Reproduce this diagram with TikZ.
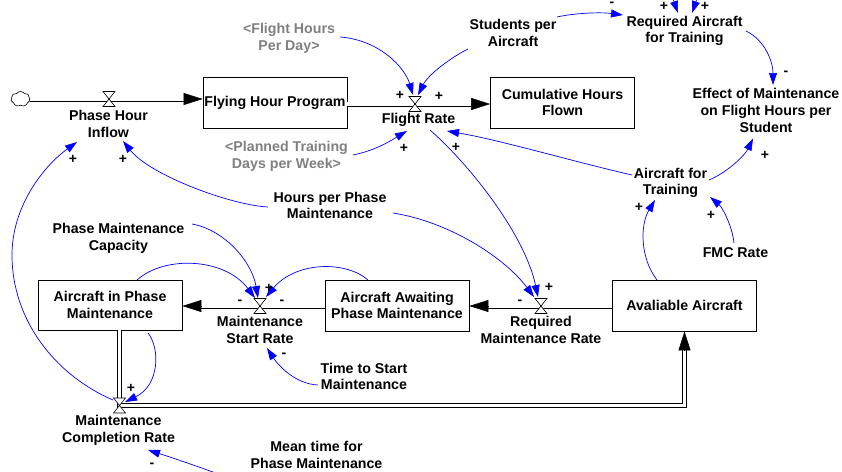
\documentclass[tikz,border=0pt]{standalone}
\usepackage{fontspec}
\setmainfont{Liberation Sans}
\usetikzlibrary{arrows.meta,shapes.symbols,calc}
\definecolor{vblue}{RGB}{0,0,255}
\definecolor{shadowgray}{RGB}{128,128,128}
\begin{document}
\begin{tikzpicture}[x=1pt,y=-1pt,
  lbl/.style={font=\fontsize{14.2}{16.7}\selectfont\bfseries, align=center, inner sep=0pt},
  shadowvar/.style={lbl, text=shadowgray},
  stock/.style={lbl, draw, line width=0.8pt, fill=white, minimum width=144pt, minimum height=51pt},
  pipe/.style={draw=black, line width=0.9pt, double=white, double distance=3.2pt},
  flowtip/.style={-{Triangle[length=19pt,width=12pt]}, line width=0.5pt},
  link/.style={vblue, line width=0.7pt, -{Triangle[length=12pt,width=8pt]}},
  sign/.style={font=\fontsize{14}{14}\selectfont\bfseries, inner sep=0pt},
  flowvalve/.pic={\draw[fill=white, line width=0.6pt] (-6,-7.5) -- (6,-7.5) -- (-6,7.5) -- (6,7.5) -- cycle;}
]
\useasboundingbox (0,0) rectangle (842,471);
\clip (0,0) rectangle (842,471);

% valves
\coordinate (vphi) at (109,99);
\coordinate (vfr) at (415,104);
\coordinate (vmsr) at (260,306);
\coordinate (vrmr) at (541,306);
\coordinate (vmcr) at (119.5,405.5);
\coordinate (ext1) at (670,-10);
\coordinate (ext2) at (700,-10);

% source cloud
\node[cloud, draw, cloud puffs=7, cloud puff arc=110, aspect=1.3, minimum width=19pt, minimum height=15pt, inner sep=0pt, line width=0.6pt] (src) at (20.5,99) {};

% stocks
\node[stock] (fhp) at (275,102.5) {Flying Hour Program};
\node[stock] (chf) at (562.5,102.5) {Cumulative Hours\\Flown};
\node[stock, minimum height=50pt] (aipm) at (110,305) {Aircraft in Phase\\Maintenance};
\node[stock] (aapm) at (397,305.5) {Aircraft Awaiting\\Phase Maintenance};
\node[stock] (aa) at (684.5,305.5) {Avaliable Aircraft};

% variables
\node[lbl] (phi) at (108.5,124) {Phase Hour\\Inflow};
\node[lbl] (fr) at (418.5,120) {Flight Rate};
\node[shadowvar] (fhpd) at (289,38) {<Flight Hours\\Per Day>};
\node[lbl] (spa) at (513,33) {Students per\\Aircraft};
\node[lbl] (rat) at (684.5,31) {Required Aircraft\\for Training};
\node[lbl] (eff) at (766,110.5) {Effect of Maintenance\\on Flight Hours per\\Student};
\node[lbl] (aft) at (670.5,183) {Aircraft for\\Training};
\node[lbl] (fmc) at (735.5,253) {FMC Rate};
\node[shadowvar] (ptd) at (286.5,156.5) {<Planned Training\\Days per Week>};
\node[lbl] (hpm) at (330,205.5) {Hours per Phase\\Maintenance};
\node[lbl] (pmc) at (118.5,238) {Phase Maintenance\\Capacity};
\node[lbl] (msr) at (260,330) {Maintenance\\Start Rate};
\node[lbl] (rmr) at (541,330) {Required\\Maintenance Rate};
\node[lbl] (tsm) at (364,376.5) {Time to Start\\Maintenance};
\node[lbl] (mcr) at (118.5,430) {Maintenance\\Completion Rate};
\node[lbl] (mtpm) at (316.5,455) {Mean time for\\Phase Maintenance};

% pipes
\draw[pipe, shorten >=17pt] (src.east) -- (src.east -| fhp.west);
\draw[flowtip] ($(src.east -| fhp.west)+(-19,0)$) -- (src.east -| fhp.west);
\draw[pipe, shorten >=17pt] (vfr -| fhp.east) -- (vfr -| chf.west);
\draw[flowtip] ($(vfr -| chf.west)+(-19,0)$) -- (vfr -| chf.west);
\draw[pipe, shorten >=17pt] (vrmr -| aa.west) -- (vrmr -| aapm.east);
\draw[flowtip] ($(vrmr -| aapm.east)+(19,0)$) -- (vrmr -| aapm.east);
\draw[pipe, shorten >=17pt] (vmsr -| aapm.west) -- (vmsr -| aipm.east);
\draw[flowtip] ($(vmsr -| aipm.east)+(19,0)$) -- (vmsr -| aipm.east);
\draw[pipe, shorten >=17pt] (vmcr |- aipm.south) -- (vmcr) -| (aa.south);
\draw[flowtip] ($(aa.south)+(0,19)$) -- (aa.south);

% valve symbols
\pic at (vphi) {flowvalve};
\pic at (vfr) {flowvalve};
\pic at (vmsr) {flowvalve};
\pic at (vrmr) {flowvalve};
\pic at (vmcr) {flowvalve};

% causal links
\draw[link] ($(fhpd)+(51,-1)$) .. controls (380,40) and (405,68) .. ($(vfr)+(-2,-9)$);
\draw[link] ($(spa)+(-45,16)$) .. controls (450,58) and (428,75) .. ($(vfr)+(3,-9)$);
\draw[link] ($(ptd)+(66.5,-1.5)$) .. controls (378,150) and (395,138) .. ($(fr)+(-11.5,11)$);
\draw[link] ($(fr)+(11.5,10)$) .. controls (470,165) and (525,235) .. ($(vrmr)+(-3,-9)$);
\draw[link] ($(hpm)+(63,7.5)$) .. controls (450,222) and (505,258) .. ($(vrmr)+(-7,-9)$);
\draw[link] ($(hpm)+(-62,1.5)$) .. controls (230,205) and (150,175) .. ($(phi)+(14.5,17)$);
\draw[link] ($(vmcr)+(-6.5,-5.5)$) .. controls (55,375) and (12,320) .. (12,255) .. controls (12,205) and (45,165) .. ($(phi)+(-31.5,18)$);
\draw[link] ($(aft)+(-38.5,-8)$) .. controls (575,162) and (500,140) .. ($(fr)+(28.5,11)$);
\draw[link] ($(aft)+(38.5,-3)$) .. controls (728,172) and (745,155) .. ($(eff)+(-13,28)$);
\draw[link] ($(rat)+(61.5,0)$) .. controls (765,40) and (773,62) .. ($(eff)+(7,-25.5)$);
\draw[link] ($(spa)+(44,-16)$) .. controls (575,13) and (600,12) .. ($(rat)+(-61.5,-16)$);
\draw[link] (ext1) -- ($(rat)+(-6.5,-18)$);
\draw[link] (ext2) -- ($(rat)+(7.5,-18)$);
\draw[link] ($(aa)+(-27.5,-25.5)$) .. controls (640,258) and (640,225) .. ($(aft)+(-15.5,17)$);
\draw[link] ($(fmc)+(-1.5,-10)$) .. controls (732,225) and (722,207) .. ($(aft)+(39.5,14)$);
\draw[link] ($(pmc)+(73.5,-14)$) .. controls (225,230) and (252,262) .. ($(vmsr)+(-2,-8)$);
\draw[link] ($(aipm)+(27,-25)$) .. controls (165,255) and (225,258) .. ($(vmsr)+(-5,-8)$);
\draw[link] ($(aapm)+(-29,-25.5)$) .. controls (345,260) and (295,262) .. ($(vmsr)+(6,-9)$);
\draw[link] ($(tsm)+(-46,8.5)$) .. controls (295,384) and (278,365) .. ($(msr)+(7,18)$);
\draw[link] ($(aipm)+(38,28)$) .. controls (160,348) and (160,385) .. ($(vmcr)+(5.5,-3.5)$);
\draw[link] ($(mtpm)+(-87.5,23)$) .. controls (200,467) and (170,457) .. ($(mcr)+(29.5,20)$);

% polarity signs
\node[sign] (s1) at (400,95) {+};
\node[sign] (s2) at (439,96) {+};
\node[sign] (s3) at (404,148) {+};
\node[sign] (s4) at (456,147) {+};
\node[sign] (s5) at (549,287) {+};
\node[sign] (s6) at (520,302) {-};
\node[sign] (s7) at (73,159) {+};
\node[sign] (s8) at (123,159) {+};
\node[sign] (s9) at (786,73) {-};
\node[sign] (s10) at (765,155) {+};
\node[sign] (s11) at (612,4) {-};
\node[sign] (s12) at (664,6) {+};
\node[sign] (s13) at (705,6) {+};
\node[sign] (s14) at (639,207) {+};
\node[sign] (s15) at (711,215) {+};
\node[sign] (s16) at (269,288) {+};
\node[sign] (s17) at (240,302) {-};
\node[sign] (s18) at (282,302) {-};
\node[sign] (s19) at (284,355) {-};
\node[sign] (s20) at (131,388) {+};
\node[sign] (s21) at (152,465) {-};
\end{tikzpicture}
\end{document}
